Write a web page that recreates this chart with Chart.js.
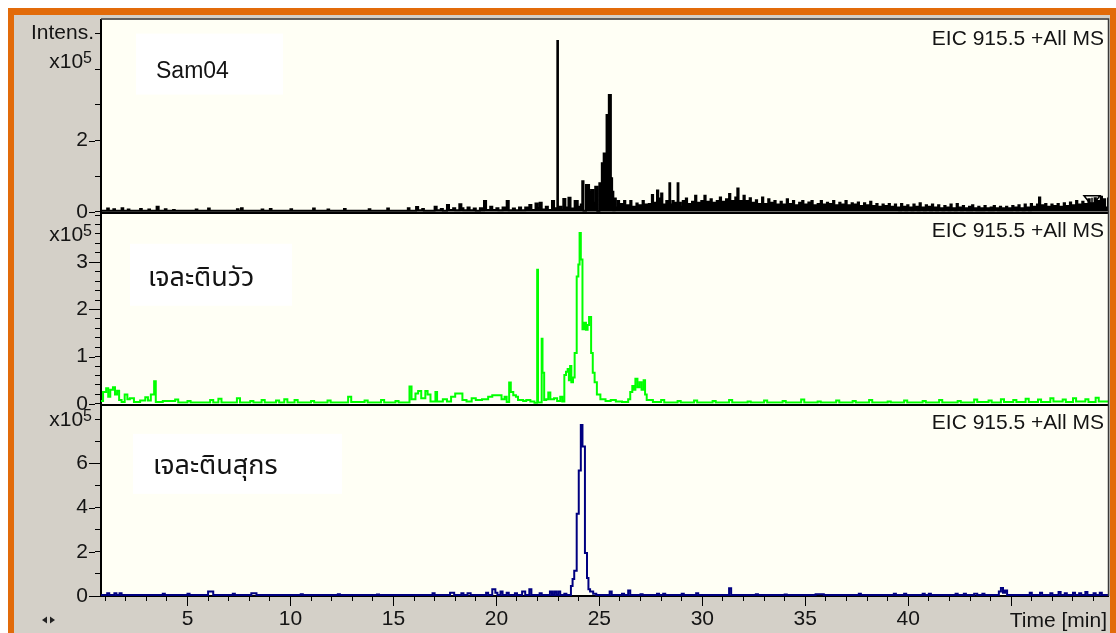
<!DOCTYPE html>
<html>
<head>
<meta charset="utf-8">
<script src="https://cdn.jsdelivr.net/npm/chart.js@4.4.0/dist/chart.umd.min.js"></script>
<style>
  html, body { margin: 0; padding: 0; background: #ffffff; overflow: hidden; }
  #frame {
    position: absolute; left: 8px; top: 8px; width: 1096px; height: 640px;
    border-left: 6px solid #E26B0A; border-top: 7px solid #E26B0A; border-right: 6px solid #E26B0A;
    background: #D4D0C8;
  }
  #chart { position: absolute; left: 0; top: 0; }
</style>
</head>
<body>
<div id="frame"></div>
<canvas id="chart" width="1116" height="633"></canvas>
<script>
// Extracted ion chromatograms, m/z 915.5. Time in minutes, intensity in units of 10^5.
const timeRange = [0.8, 49.7];

const sam04 = [
  [0.8,0.03],[1.1,0.09],[1.18,0.03],[1.4,0.07],[1.48,0.03],[1.8,0.1],[1.88,0.03],[2.1,0.06],[2.18,0.03],
  [2.7,0.08],[2.78,0.03],[3.1,0.06],[3.18,0.03],[3.5,0.14],[3.6,0.03],[3.9,0.07],[3.98,0.03],[4.3,0.05],
  [4.38,0.03],[5.4,0.06],[5.48,0.03],[6.0,0.09],[6.08,0.03],[7.4,0.07],[7.48,0.03],[7.6,0.1],[7.68,0.03],
  [8.6,0.06],[8.68,0.03],[9.0,0.08],[9.08,0.03],[10.0,0.07],[10.08,0.03],[11.1,0.09],[11.18,0.03],
  [11.8,0.06],[11.88,0.03],[12.6,0.08],[12.68,0.03],[13.8,0.07],[13.88,0.03],[14.7,0.09],[14.78,0.03],
  [15.7,0.1],[15.78,0.03],[16.1,0.13],[16.2,0.04],[16.4,0.08],[16.48,0.03],
  [17.0,0.14],[17.1,0.04],[17.3,0.08],[17.4,0.03],[17.6,0.19],[17.7,0.05],[17.9,0.1],[18.0,0.04],
  [18.2,0.21],[18.3,0.1],[18.4,0.04],[18.6,0.12],[18.7,0.04],[18.9,0.09],[19.0,0.03],[19.2,0.1],[19.3,0.04],
  [19.4,0.3],[19.5,0.05],[19.7,0.14],[19.8,0.05],[20.0,0.1],[20.1,0.04],[20.3,0.12],[20.5,0.3],[20.6,0.04],
  [20.8,0.09],[20.9,0.04],[21.1,0.12],[21.2,0.04],[21.4,0.12],[21.6,0.19],[21.7,0.05],[21.9,0.23],[22.0,0.1],
  [22.1,0.25],[22.2,0.06],[22.4,0.14],[22.5,0.05],[22.7,0.3],[22.8,0.1],[22.9,0.05],
  [22.96,4.8],[22.99,0.14],[23.15,0.05],[23.25,0.36],[23.35,0.12],[23.5,0.39],[23.6,0.09],[23.8,0.3],[23.95,0.14],
  [24.1,0.2],[24.17,0.86],[24.23,0.03],[24.35,0.75],[24.5,0.56],[24.6,0.61],[24.7,0.25],[24.8,0.7],[24.9,0.02],
  [25.0,0.8],[25.12,1.36],[25.21,1.64],[25.35,2.72],[25.46,3.28],[25.56,0.94],[25.62,0.56],[25.68,0.04],
  [25.74,0.37],[25.8,0.12],[25.9,0.3],[25.96,0.1],[26.05,0.22],[26.11,0.1],[26.2,0.3],[26.26,0.12],[26.35,0.18],
  [26.41,0.08],[26.5,0.3],[26.56,0.1],[26.65,0.14],[26.71,0.06],[26.8,0.23],[26.86,0.1],[26.95,0.18],[27.01,0.08],
  [27.1,0.3],[27.16,0.09],[27.25,0.2],[27.31,0.1],[27.4,0.22],[27.46,0.12],[27.55,0.47],[27.61,0.12],[27.7,0.25],
  [27.76,0.1],[27.8,0.6],[27.86,0.3],[27.9,0.37],[27.96,0.15],[28.0,0.51],[28.06,0.05],[28.15,0.2],[28.25,0.3],
  [28.31,0.1],[28.4,0.8],[28.44,0.2],[28.55,0.3],[28.61,0.12],[28.7,0.25],[28.8,0.8],[28.84,0.25],[28.95,0.14],
  [29.05,0.3],[29.11,0.1],[29.2,0.37],[29.26,0.12],[29.35,0.22],[29.41,0.08],[29.5,0.28],[29.56,0.1],[29.65,0.45],
  [29.71,0.12],[29.8,0.25],[29.86,0.1],[29.95,0.3],[30.01,0.12],[30.1,0.45],[30.16,0.1],[30.25,0.28],[30.31,0.1],
  [30.4,0.35],[30.46,0.12],[30.55,0.25],[30.61,0.08],[30.7,0.3],[30.76,0.1],[30.85,0.4],[30.91,0.12],[31.0,0.28],
  [31.06,0.1],[31.15,0.35],[31.21,0.12],[31.3,0.5],[31.36,0.15],[31.45,0.3],[31.51,0.1],[31.6,0.4],[31.7,0.65],
  [31.76,0.15],[31.85,0.3],[31.91,0.1],[32.0,0.45],[32.06,0.12],[32.15,0.3],[32.21,0.1],[32.3,0.38],[32.36,0.12],
  [32.45,0.25],[32.51,0.08],[32.6,0.32],[32.66,0.1],[32.75,0.22],[32.81,0.08],[32.9,0.4],[32.96,0.12],[33.05,0.22],
  [33.11,0.08],[33.2,0.35],[33.26,0.1],[33.35,0.25],[33.41,0.08],[33.5,0.3],[33.56,0.1],[33.65,0.2],[33.71,0.06],
  [33.8,0.28],[33.86,0.1],[33.95,0.2],[34.01,0.08],[34.1,0.35],[34.16,0.1],[34.25,0.22],[34.31,0.06],[34.4,0.3],
  [34.46,0.1],[34.55,0.18],[34.61,0.06],[34.7,0.25],[34.76,0.08],[34.85,0.3],[34.91,0.1],[35.0,0.2],[35.06,0.06],
  [35.15,0.26],[35.21,0.08],[35.3,0.3],[35.36,0.1],[35.45,0.18],[35.51,0.06],[35.6,0.22],[35.66,0.08],[35.75,0.3],
  [35.81,0.1],[35.9,0.2],[35.96,0.06],[36.05,0.25],[36.11,0.08],[36.2,0.22],[36.26,0.06],[36.35,0.3],[36.41,0.1],
  [36.5,0.18],[36.56,0.06],[36.65,0.25],[36.71,0.08],[36.8,0.2],[36.86,0.06],[36.95,0.3],[37.01,0.08],[37.1,0.18],
  [37.16,0.06],[37.25,0.24],[37.31,0.08],[37.4,0.2],[37.46,0.06],[37.55,0.26],[37.61,0.08],[37.7,0.16],[37.76,0.05],
  [37.85,0.24],[37.91,0.08],[38.0,0.18],[38.06,0.06],[38.15,0.28],[38.21,0.08],[38.3,0.16],[38.36,0.05],[38.45,0.22],
  [38.51,0.06],[38.6,0.14],[38.66,0.05],[38.75,0.2],[38.81,0.06],[38.9,0.16],[38.96,0.05],[39.05,0.22],[39.11,0.06],
  [39.2,0.14],[39.26,0.05],[39.35,0.2],[39.41,0.06],[39.5,0.12],[39.56,0.04],[39.65,0.22],[39.71,0.06],[39.8,0.14],
  [39.86,0.04],[39.95,0.18],[40.01,0.05],[40.1,0.12],[40.16,0.04],[40.25,0.2],[40.31,0.06],[40.4,0.14],[40.46,0.04],
  [40.55,0.24],[40.61,0.06],[40.7,0.12],[40.76,0.04],[40.85,0.18],[40.91,0.05],[41.0,0.14],[41.06,0.04],[41.15,0.2],
  [41.21,0.06],[41.3,0.12],[41.36,0.04],[41.45,0.18],[41.51,0.05],[41.6,0.1],[41.66,0.04],[41.75,0.16],[41.81,0.05],
  [41.9,0.12],[41.96,0.04],[42.05,0.2],[42.11,0.05],[42.2,0.1],[42.26,0.04],[42.35,0.22],[42.41,0.05],[42.5,0.12],
  [42.56,0.04],[42.65,0.16],[42.71,0.05],[42.8,0.1],[42.86,0.04],[42.95,0.14],[43.01,0.04],[43.1,0.18],[43.16,0.05],
  [43.25,0.1],[43.31,0.04],[43.4,0.14],[43.46,0.04],[43.55,0.1],[43.61,0.04],[43.7,0.16],[43.76,0.05],[43.85,0.1],
  [43.91,0.04],[44.0,0.12],[44.06,0.04],[44.15,0.16],[44.21,0.05],[44.3,0.1],[44.36,0.04],[44.45,0.14],[44.51,0.04],
  [44.6,0.1],[44.66,0.04],[44.75,0.14],[44.81,0.04],[44.9,0.1],[44.96,0.04],[45.05,0.16],[45.11,0.05],[45.2,0.12],
  [45.26,0.04],[45.35,0.18],[45.41,0.05],[45.5,0.1],[45.56,0.04],[45.65,0.2],[45.71,0.05],[45.8,0.12],[45.86,0.04],
  [45.95,0.22],[46.01,0.06],[46.1,0.14],[46.16,0.05],[46.25,0.2],[46.35,0.4],[46.41,0.1],[46.5,0.18],[46.56,0.05],
  [46.65,0.22],[46.71,0.06],[46.8,0.14],[46.86,0.05],[46.95,0.2],[47.01,0.06],[47.1,0.16],[47.16,0.05],[47.25,0.22],
  [47.31,0.08],[47.4,0.14],[47.46,0.05],[47.55,0.24],[47.61,0.08],[47.7,0.16],[47.76,0.06],[47.85,0.26],[47.91,0.08],
  [48.0,0.18],[48.06,0.06],[48.15,0.3],[48.21,0.1],[48.3,0.2],[48.36,0.06],[48.45,0.28],[48.51,0.1],[48.6,0.22],
  [48.66,0.08],[48.75,0.35],[48.81,0.1],[48.9,0.24],[48.96,0.08],[49.05,0.38],[49.11,0.12],[49.2,0.3],[49.26,0.1],
  [49.35,0.42],[49.41,0.15],[49.5,0.35],[49.56,0.12],[49.7,0.4]
];

const bovine = [
  [0.8,0.06],[0.9,0.25],[1.05,0.33],[1.15,0.15],[1.25,0.3],[1.38,0.35],[1.48,0.2],[1.58,0.28],[1.68,0.08],
  [1.8,0.04],[1.95,0.2],[2.08,0.1],[2.2,0.12],[2.4,0.04],[2.7,0.07],[2.95,0.14],[3.08,0.07],[3.22,0.2],
  [3.38,0.48],[3.46,0.04],[3.8,0.06],[4.4,0.09],[4.55,0.03],[5.0,0.06],[5.15,0.03],[6.1,0.08],[6.25,0.03],
  [6.5,0.11],[6.65,0.03],[7.4,0.12],[7.55,0.03],[8.05,0.06],[8.2,0.03],[8.6,0.08],[8.75,0.03],[9.3,0.07],
  [9.45,0.03],[9.7,0.1],[9.85,0.03],[10.2,0.08],[10.35,0.03],[11.0,0.06],[11.15,0.03],[11.8,0.07],[11.95,0.03],
  [12.8,0.15],[12.95,0.04],[13.6,0.07],[13.75,0.03],[14.4,0.08],[14.55,0.03],[15.1,0.06],[15.25,0.03],
  [15.78,0.37],[15.88,0.1],[16.07,0.22],[16.2,0.27],[16.35,0.12],[16.55,0.27],[16.66,0.2],[16.8,0.05],
  [17.04,0.25],[17.12,0.05],[17.4,0.1],[17.6,0.05],[17.8,0.15],[18.0,0.22],[18.2,0.22],[18.35,0.08],
  [18.55,0.05],[18.8,0.12],[19.0,0.08],[19.3,0.1],[19.6,0.15],[19.8,0.18],[20.1,0.18],[20.25,0.1],[20.4,0.15],
  [20.5,0.04],[20.62,0.45],[20.7,0.25],[20.82,0.18],[20.95,0.15],[21.05,0.08],[21.3,0.06],[21.45,0.08],
  [21.65,0.05],[21.85,0.02],[21.98,2.84],[22.02,0.03],[22.2,1.38],[22.24,0.66],[22.32,0.08],[22.42,0.1],
  [22.52,0.24],[22.62,0.1],[22.8,0.12],[22.95,0.06],[23.1,0.15],[23.2,0.05],[23.3,0.61],[23.38,0.68],
  [23.46,0.74],[23.52,0.5],[23.58,0.8],[23.64,0.46],[23.72,0.56],[23.8,1.08],[23.9,2.7],[23.98,2.95],
  [24.04,3.62],[24.1,3.06],[24.18,1.58],[24.27,1.72],[24.35,1.57],[24.43,1.67],[24.5,1.84],[24.6,1.08],
  [24.68,0.66],[24.77,0.46],[24.88,0.2],[25.05,0.1],[25.3,0.06],[25.55,0.08],[25.8,0.05],[26.1,0.04],
  [26.4,0.1],[26.5,0.25],[26.6,0.38],[26.68,0.3],[26.75,0.53],[26.85,0.35],[26.95,0.46],[27.05,0.3],
  [27.15,0.5],[27.22,0.2],[27.3,0.08],[27.6,0.04],[28.0,0.08],[28.15,0.03],[28.8,0.06],[28.95,0.03],
  [29.6,0.07],[29.75,0.03],[30.5,0.06],[30.65,0.03],[31.3,0.08],[31.45,0.03],[32.2,0.05],[32.35,0.03],
  [33.0,0.07],[33.15,0.03],[33.9,0.06],[34.05,0.03],[34.8,0.09],[34.95,0.03],[35.6,0.05],[35.75,0.03],
  [36.5,0.07],[36.65,0.03],[37.3,0.06],[37.45,0.03],[38.1,0.08],[38.25,0.03],[39.0,0.05],[39.15,0.03],
  [39.8,0.07],[39.95,0.03],[40.7,0.06],[40.85,0.03],[41.5,0.08],[41.65,0.03],[42.4,0.06],[42.55,0.03],
  [43.2,0.09],[43.35,0.04],[43.9,0.07],[44.05,0.03],[44.5,0.1],[44.65,0.04],[45.1,0.08],[45.25,0.04],
  [45.7,0.11],[45.85,0.04],[46.3,0.09],[46.45,0.04],[46.9,0.12],[47.05,0.05],[47.5,0.09],[47.65,0.04],
  [48.0,0.12],[48.15,0.05],[48.6,0.1],[48.75,0.04],[49.1,0.13],[49.25,0.05],[49.7,0.06]
];

const porcine = [
  [0.8,0.05],[1.1,0.12],[1.2,0.05],[1.45,0.12],[1.55,0.05],[1.7,0.12],[1.8,0.05],[3.8,0.1],[3.9,0.05],
  [5.0,0.1],[5.1,0.05],[6.0,0.2],[6.25,0.05],[7.2,0.1],[7.3,0.05],[8.1,0.12],[8.35,0.05],[10.5,0.08],
  [10.6,0.05],[12.3,0.08],[12.4,0.05],[14.2,0.07],[14.3,0.05],[16.9,0.12],[17.0,0.05],[17.75,0.15],
  [17.95,0.05],[18.3,0.12],[18.4,0.05],[18.6,0.12],[18.75,0.05],[19.5,0.15],[19.6,0.05],[19.8,0.3],
  [19.95,0.15],[20.05,0.05],[20.2,0.2],[20.3,0.05],[20.5,0.15],[20.6,0.05],[20.9,0.12],[21.0,0.05],
  [21.25,0.2],[21.4,0.05],[21.6,0.3],[21.7,0.05],[22.1,0.12],[22.2,0.05],[22.6,0.2],[22.7,0.05],[22.8,0.2],
  [22.9,0.05],[23.0,0.2],[23.1,0.05],[23.3,0.1],[23.4,0.05],[23.62,0.45],[23.7,0.77],[23.78,1.14],
  [23.9,3.73],[24.0,5.68],[24.1,7.74],[24.18,6.77],[24.3,1.95],[24.4,0.82],[24.47,0.3],[24.55,0.2],
  [24.7,0.1],[24.85,0.05],[25.5,0.2],[25.6,0.05],[26.1,0.1],[26.2,0.05],[26.4,0.25],[26.5,0.05],[27.0,0.08],
  [27.1,0.05],[27.8,0.1],[27.9,0.05],[28.1,0.1],[28.2,0.05],[29.0,0.1],[29.1,0.05],[29.7,0.12],[29.8,0.05],
  [31.3,0.35],[31.4,0.05],[32.6,0.08],[32.7,0.05],[34.0,0.07],[34.1,0.05],[35.5,0.08],[35.9,0.05],
  [37.6,0.1],[37.7,0.05],[39.3,0.1],[39.4,0.05],[39.8,0.1],[39.9,0.05],[40.7,0.1],[40.8,0.05],[41.0,0.1],
  [41.1,0.05],[42.3,0.1],[42.4,0.05],[42.7,0.1],[42.8,0.05],[43.2,0.1],[43.35,0.05],[43.6,0.1],[43.7,0.05],
  [44.4,0.2],[44.5,0.36],[44.6,0.15],[44.7,0.25],[44.8,0.05],[45.9,0.15],[46.0,0.05],[46.4,0.15],[46.5,0.05],
  [46.9,0.12],[47.0,0.05],[47.3,0.18],[47.4,0.05],[47.6,0.12],[47.7,0.05],[48.0,0.15],[48.1,0.05],
  [48.3,0.12],[48.4,0.05],[48.6,0.18],[48.7,0.05],[49.0,0.12],[49.1,0.05],[49.3,0.15],[49.4,0.05],[49.7,0.05]
];

const sampleNames = ['Sam04', 'เจละตินวัว', 'เจละตินสุกร'];
const traceTitle = 'EIC 915.5 +All MS';
const intensityMax = [5.4, 4.07, 8.7];
const intensityStep = [1, 0.2, 1];
const intensityLabels = [[0, 2], [0, 1, 2, 3], [0, 2, 4, 6]];
const exponentTick = [4, 3.6, 8];
const timeLabels = [5, 10, 15, 20, 25, 30, 35, 40];
const timeTitle = 'Time [min]';

const FONT = '"Liberation Sans", Arial, sans-serif';
const THAI_FONT = '"Noto Sans Thai", "Noto Sans Thai UI", Loma, Garuda, Tahoma, "Liberation Sans", sans-serif';
const INK = '#141414';
const traceColors = ['#000000', '#00FF00', '#000080'];
const traceFills = [true, false, false];
const axisIds = ['y1', 'y2', 'y3'];

// white caption boxes, offsets from the top of each panel
const captionBoxes = [
  { x: 136, y: 14, w: 147, h: 61, tx: 156, ty: 58, size: 23 },
  { x: 130, y: 32, w: 162, h: 62, tx: 148, ty: 74, size: 27 },
  { x: 133, y: 30, w: 209, h: 60, tx: 153, ty: 70, size: 27 }
];
// vertical offset of the "x10^5" marker relative to its tick
const exponentShift = [-1, 7, 7];

const near = (a, b) => Math.abs(a - b) < 1e-6;

function intensityScale(i) {
  return {
    type: 'linear', position: 'left', stack: 'traces', stackWeight: 1, weight: 3 - i,
    min: 0, max: intensityMax[i],
    border: { display: true, color: '#000', width: 2 },
    grid: { drawOnChartArea: false, drawTicks: true, tickLength: 6, tickColor: '#000', tickWidth: 1 },
    ticks: {
      stepSize: intensityStep[i], includeBounds: false, autoSkip: false, padding: 7,
      color: INK, font: { family: FONT, size: 21 },
      callback: v => intensityLabels[i].some(l => near(l, v)) ? String(Math.round(v)) : ''
    },
    afterFit(s) { s.width = 87; }
  };
}

const decorations = {
  id: 'decorations',
  beforeDraw(chart) {
    const { ctx, chartArea: a } = chart;
    ctx.save();
    ctx.fillStyle = '#FFFFF5';
    ctx.fillRect(a.left, a.top, a.width, a.height);
    axisIds.forEach((id, i) => {
      const s = chart.scales[id], b = captionBoxes[i];
      ctx.fillStyle = '#FFFFFF';
      ctx.fillRect(b.x, s.top + b.y, b.w, b.h);
    });
    ctx.restore();
  },
  afterDatasetsDraw(chart) {
    const { ctx, chartArea: a } = chart;
    ctx.save();
    // panel separators
    ctx.strokeStyle = '#000';
    ctx.lineWidth = 2;
    ['y1', 'y2'].forEach(id => {
      const y = Math.round(chart.scales[id].bottom) + 1;
      ctx.beginPath(); ctx.moveTo(a.left, y); ctx.lineTo(a.right, y); ctx.stroke();
    });
    // outer frame, top and right
    ctx.strokeStyle = '#3a3a3a';
    ctx.lineWidth = 1.5;
    ctx.beginPath();
    ctx.moveTo(a.left, a.top - 0.5); ctx.lineTo(a.right + 0.5, a.top - 0.5); ctx.lineTo(a.right + 0.5, a.bottom);
    ctx.stroke();
    ctx.restore();
  },
  afterDraw(chart) {
    const { ctx, chartArea: a } = chart;
    ctx.save();
    ctx.fillStyle = INK;
    ctx.strokeStyle = '#000';
    ctx.lineWidth = 1;
    axisIds.forEach((id, i) => {
      const s = chart.scales[id], b = captionBoxes[i];
      // longer marks on labelled ticks
      intensityLabels[i].forEach(v => {
        const y = Math.round(s.getPixelForValue(v)) + 0.5;
        ctx.beginPath(); ctx.moveTo(a.left - 12, y); ctx.lineTo(a.left - 6, y); ctx.stroke();
      });
      // exponent marker
      const ey = s.getPixelForValue(exponentTick[i]) + exponentShift[i];
      ctx.textAlign = 'right';
      ctx.textBaseline = 'alphabetic';
      ctx.font = '16px ' + FONT;
      const w5 = ctx.measureText('5').width;
      ctx.fillText('5', a.left - 9, ey - 5);
      ctx.font = '21px ' + FONT;
      ctx.fillText('x10', a.left - 9 - w5, ey);
      // trace title
      ctx.font = '21px ' + FONT;
      ctx.fillText(traceTitle, a.right - 4, s.top + 25);
      // sample caption
      ctx.textAlign = 'left';
      ctx.font = b.size + 'px ' + (i === 0 ? FONT : THAI_FONT);
      ctx.fillText(sampleNames[i], b.tx, s.top + b.ty);
    });
    const y1 = chart.scales.y1;
    ctx.textAlign = 'right';
    ctx.textBaseline = 'middle';
    ctx.font = '21px ' + FONT;
    ctx.fillText('Intens.', a.left - 7, y1.getPixelForValue(5) - 1);

    // time axis: longer marks every 5 min and the axis title
    const x = chart.scales.x;
    timeLabels.concat([45]).forEach(t => {
      const px = Math.round(x.getPixelForValue(t)) + 0.5;
      ctx.beginPath(); ctx.moveTo(px, a.bottom + 5); ctx.lineTo(px, a.bottom + 10); ctx.stroke();
    });
    ctx.textBaseline = 'alphabetic';
    ctx.fillText(timeTitle, a.right - 1, 627);

    // end-of-range marker on the first trace
    const my = y1.bottom - 16;
    ctx.lineWidth = 1.5;
    ctx.beginPath();
    ctx.moveTo(1084, my); ctx.lineTo(1100, my); ctx.lineTo(1092, my + 10); ctx.closePath();
    ctx.moveTo(1092, my + 2); ctx.lineTo(1092, my + 12);
    ctx.stroke();

    // scroll arrows in the lower left corner
    ctx.fillStyle = '#222';
    ctx.beginPath(); ctx.moveTo(42, 620); ctx.lineTo(47, 616.5); ctx.lineTo(47, 623.5); ctx.closePath(); ctx.fill();
    ctx.beginPath(); ctx.moveTo(55, 620); ctx.lineTo(50, 616.5); ctx.lineTo(50, 623.5); ctx.closePath(); ctx.fill();
    ctx.restore();
  }
};

const series = [sam04, bovine, porcine];

new Chart(document.getElementById('chart'), {
  type: 'line',
  data: {
    datasets: series.map((d, i) => ({
      label: sampleNames[i],
      data: d,
      yAxisID: axisIds[i],
      xAxisID: 'x',
      borderColor: traceColors[i],
      backgroundColor: traceColors[i],
      borderWidth: 2,
      stepped: true,
      pointRadius: 0,
      fill: traceFills[i] ? 'origin' : false,
      tension: 0
    }))
  },
  options: {
    responsive: false,
    animation: false,
    devicePixelRatio: 1,
    layout: { padding: { left: 14, top: 18, right: 8, bottom: 0 } },
    plugins: { legend: { display: false }, tooltip: { enabled: false } },
    scales: {
      x: {
        type: 'linear', position: 'bottom', min: timeRange[0], max: timeRange[1],
        border: { display: true, color: '#000', width: 2 },
        grid: { drawOnChartArea: false, drawTicks: true, tickLength: 5, tickColor: '#000', tickWidth: 1 },
        ticks: {
          stepSize: 1, includeBounds: false, autoSkip: false, maxRotation: 0, padding: 6,
          color: INK, font: { family: FONT, size: 21 },
          callback: v => timeLabels.includes(v) ? String(v) : ''
        },
        afterFit(s) { s.height = 37; }
      },
      y1: intensityScale(0),
      y2: intensityScale(1),
      y3: intensityScale(2)
    }
  },
  plugins: [decorations]
});
</script>
</body>
</html>
